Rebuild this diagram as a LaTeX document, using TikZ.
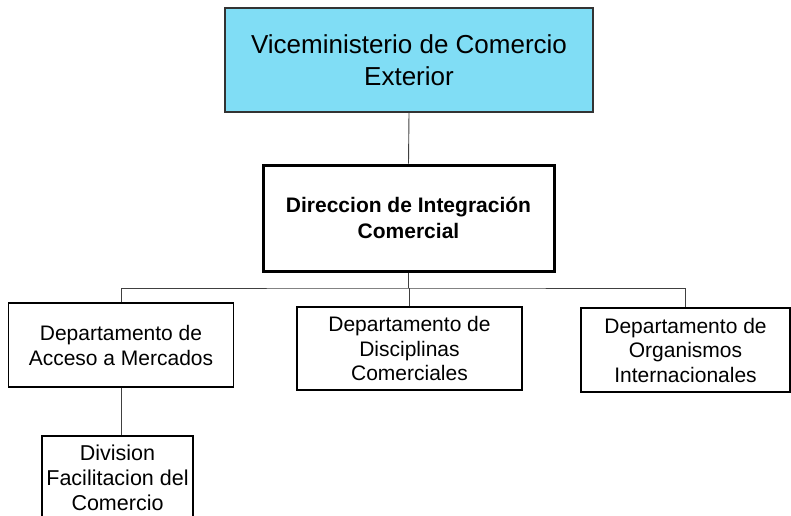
\documentclass[tikz,border=0pt]{standalone}
\usepackage{fontspec}
\setmainfont{Liberation Sans}
\definecolor{topcyan}{RGB}{128,221,245}
\begin{document}
\begin{tikzpicture}[x=1pt,y=-1pt,
  box/.style={draw=black,line width=1.4pt,rectangle,align=center,inner sep=0pt},
  conn/.style={draw=black!75,line width=0.9pt}]
\useasboundingbox (0,0) rectangle (791,515);
\begin{scope}
\clip (0,0) rectangle (791,515);
\node[box,fill=topcyan,draw=black!80,minimum width=368pt,minimum height=104pt,
  font=\fontsize{26}{31.5}\selectfont] (top) at (409,60) {Viceministerio de Comercio\\Exterior};
\node[box,line width=3pt,minimum width=291pt,minimum height=106pt,
  font=\fontsize{21}{25.5}\selectfont\bfseries] (dir) at (408.5,218) {Direccion de Integración\\Comercial};
\node[box,minimum width=225pt,minimum height=84pt,
  font=\fontsize{21}{25}\selectfont] (acc) at (121,345) {Departamento de\\Acceso a Mercados};
\node[box,minimum width=225pt,minimum height=83pt,
  font=\fontsize{21}{24.5}\selectfont] (dis) at (409.5,348.5) {Departamento de\\Disciplinas\\Comerciales};
\node[box,minimum width=209pt,minimum height=84pt,
  font=\fontsize{21}{24.5}\selectfont] (org) at (685.5,350) {Departamento de\\Organismos\\Internacionales};
\node[box,minimum width=151pt,minimum height=84pt,
  font=\fontsize{21.5}{25}\selectfont] (div) at (117.5,478) {Division\\Facilitacion del\\Comercio};
\coordinate (bar) at (409,288);
\draw[conn] (top.south) -- (dir.north);
\draw[conn] (dir.south) -- (dir.south |- bar);
\draw[conn] (acc.north) |- (bar) -| (org.north);
\draw[conn] (dis.north) -- (dis.north |- bar);
\draw[conn] (acc.south) -- (acc.south |- div.north);
\end{scope}
\end{tikzpicture}
\end{document}
